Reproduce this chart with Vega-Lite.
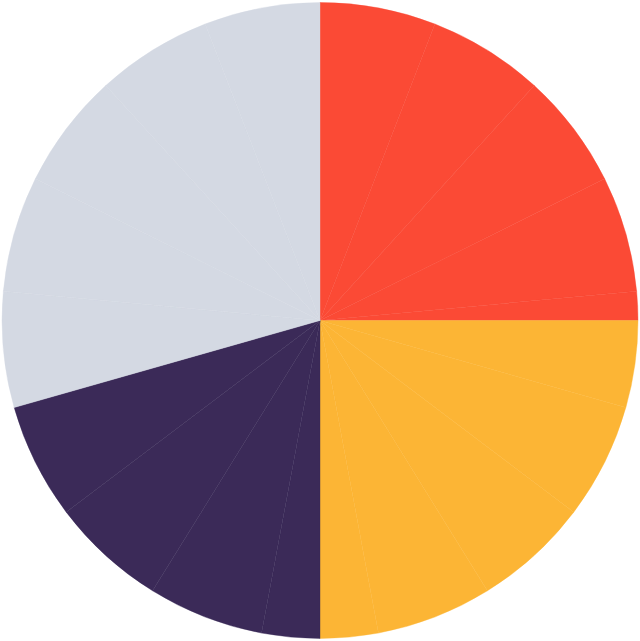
{
  "$schema": "https://vega.github.io/schema/vega-lite/v6.json",
  "width": 640,
  "height": 641,
  "autosize": {"type": "fit", "contains": "padding"},
  "padding": 0,
  "background": "white",
  "config": {"view": {"stroke": null}},
  "data": {
    "values": [
      {"idx": 1, "group": "A", "value": 1},
      {"idx": 2, "group": "A", "value": 1},
      {"idx": 3, "group": "A", "value": 1},
      {"idx": 4, "group": "A", "value": 1},
      {"idx": 5, "group": "A", "value": 0.25},
      {"idx": 6, "group": "B", "value": 0.75},
      {"idx": 7, "group": "B", "value": 1},
      {"idx": 8, "group": "B", "value": 1},
      {"idx": 9, "group": "B", "value": 1},
      {"idx": 10, "group": "B", "value": 0.5},
      {"idx": 11, "group": "C", "value": 0.5},
      {"idx": 12, "group": "C", "value": 1},
      {"idx": 13, "group": "C", "value": 1},
      {"idx": 14, "group": "C", "value": 1},
      {"idx": 15, "group": "D", "value": 1},
      {"idx": 16, "group": "D", "value": 1},
      {"idx": 17, "group": "D", "value": 1},
      {"idx": 18, "group": "D", "value": 1},
      {"idx": 19, "group": "D", "value": 1}
    ]
  },
  "mark": {"type": "arc", "outerRadius": 318, "strokeWidth": 0.4},
  "encoding": {
    "theta": {"field": "value", "type": "quantitative", "stack": true},
    "order": {"field": "idx", "type": "quantitative"},
    "color": {
      "field": "group",
      "type": "nominal",
      "scale": {"domain": ["A", "B", "C", "D"], "range": ["#FB4A35", "#FCB535", "#3B2A58", "#D4D9E3"]},
      "legend": null
    },
    "stroke": {
      "field": "group",
      "type": "nominal",
      "scale": {"domain": ["A", "B", "C", "D"], "range": ["#FB4A35", "#FCB535", "#3B2A58", "#D4D9E3"]},
      "legend": null
    }
  }
}
